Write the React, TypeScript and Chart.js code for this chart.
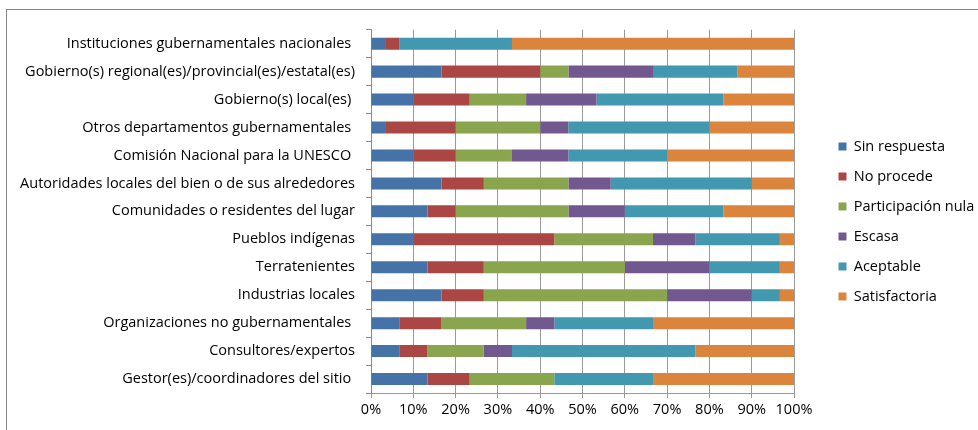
import React, { useEffect, useRef } from 'react';
import { Chart, registerables, layouts } from 'chart.js';

Chart.register(...registerables);

const categories = [
  'Instituciones gubernamentales nacionales ',
  'Gobierno(s) regional(es)/provincial(es)/estatal(es)',
  'Gobierno(s) local(es) ',
  'Otros departamentos gubernamentales ',
  'Comisión Nacional para la UNESCO ',
  'Autoridades locales del bien o de sus alrededores',
  'Comunidades o residentes del lugar',
  'Pueblos indígenas',
  'Terratenientes',
  'Industrias locales',
  'Organizaciones no gubernamentales ',
  'Consultores/expertos',
  'Gestor(es)/coordinadores del sitio ',
];

const sinRespuesta = [3.33, 16.67, 10, 3.33, 10, 16.67, 13.33, 10, 13.33, 16.67, 6.67, 6.67, 13.33];
const noProcede = [3.33, 23.33, 13.33, 16.67, 10, 10, 6.67, 33.33, 13.33, 10, 10, 6.67, 10];
const participacionNula = [0, 6.67, 13.33, 20, 13.33, 20, 26.67, 23.33, 33.33, 43.33, 20, 13.33, 20];
const escasa = [0, 20, 16.67, 6.67, 13.33, 10, 13.33, 10, 20, 20, 6.67, 6.67, 0];
const aceptable = [26.67, 20, 30, 33.33, 23.33, 33.33, 23.33, 20, 16.67, 6.67, 23.33, 43.33, 23.33];
const satisfactoria = [66.67, 13.33, 16.67, 20, 30, 10, 16.67, 3.33, 3.33, 3.33, 33.33, 23.33, 33.33];

const seriesNames = ['Sin respuesta', 'No procede', 'Participación nula', 'Escasa', 'Aceptable', 'Satisfactoria'];
const seriesValues = [sinRespuesta, noProcede, participacionNula, escasa, aceptable, satisfactoria];
const seriesColors = ['#4572a7', '#aa4643', '#89a54e', '#71588f', '#4198af', '#db843d'];

const FONT = '"Open Sans"';
const FONT_SIZE = 14.5;
const CANVAS_W = 971;
const CANVAS_H = 420;
const PLOT_RIGHT = 787;
const LEGEND_W = 155;

const legendGap = {
  id: 'legendGap',
  beforeInit(chart: any) {
    const box: any = {
      position: 'right',
      weight: 0,
      fullSize: false,
      options: {},
      left: 0, top: 0, right: 0, bottom: 0, width: 0, height: 0,
      update(_maxWidth: number, maxHeight: number) {
        const lw = chart.legend ? chart.legend.width : LEGEND_W;
        this.width = Math.max(0, CANVAS_W - PLOT_RIGHT - lw);
        this.height = maxHeight;
      },
      isHorizontal() { return false; },
      draw() {},
      getPadding() { return { left: 0, top: 0, right: 0, bottom: 0 }; },
    };
    layouts.addBox(chart, box);
  },
};

export default function App() {
  const ref = useRef<HTMLCanvasElement | null>(null);

  useEffect(() => {
    if (!ref.current) return;
    const chart = new Chart(ref.current, {
      type: 'bar',
      data: {
        labels: categories,
        datasets: seriesNames.map((name, i) => ({
          label: name,
          data: seriesValues[i],
          backgroundColor: seriesColors[i],
          borderWidth: 0,
          barPercentage: 0.43,
          categoryPercentage: 1,
        })),
      },
      options: {
        indexAxis: 'y',
        responsive: false,
        animation: false,
        layout: { padding: { top: 17, bottom: 14, left: 0, right: 0 } },
        plugins: {
          tooltip: { enabled: false },
          legend: {
            position: 'right',
            maxWidth: LEGEND_W,
            labels: {
              boxWidth: 8,
              boxHeight: 8,
              padding: 15.5,
              color: '#000',
              font: { family: FONT, size: FONT_SIZE },
            },
          },
        },
        scales: {
          x: {
            stacked: true,
            min: 0,
            max: 100,
            afterFit: (s: any) => { s.height = 23; },
            ticks: {
              stepSize: 10,
              color: '#000',
              padding: 3,
              autoSkip: false,
              maxRotation: 0,
              minRotation: 0,
              font: { family: FONT, size: FONT_SIZE },
              callback: (v: any) => v + '%',
            },
            grid: { color: '#9a9a9a', tickLength: 5, drawTicks: true },
            border: { color: '#9a9a9a' },
          },
          y: {
            stacked: true,
            afterFit: (s: any) => { s.width = 364; },
            ticks: {
              color: '#000',
              padding: 11,
              autoSkip: false,
              font: { family: FONT, size: FONT_SIZE },
            },
            grid: { drawOnChartArea: false, tickLength: 5, color: '#8a8a8a', offset: true },
            border: { color: '#8a8a8a' },
          },
        },
      },
      plugins: [legendGap],
    } as any);
    return () => chart.destroy();
  }, []);

  return (
    <div
      style={{
        position: 'absolute',
        left: 6,
        top: 9,
        width: CANVAS_W,
        height: CANVAS_H,
        borderTop: '1px solid #868686',
        borderLeft: '1px solid #868686',
        background: '#fff',
      }}
    >
      <canvas ref={ref} width={CANVAS_W} height={CANVAS_H} style={{ display: 'block' }} />
    </div>
  );
}
